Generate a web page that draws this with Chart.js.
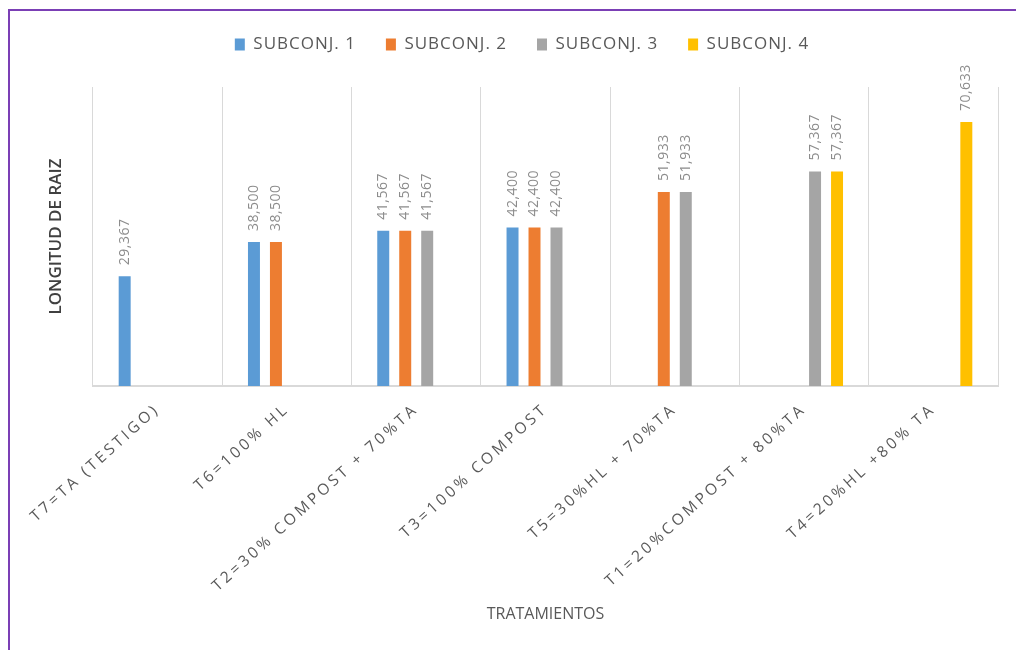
<!DOCTYPE html>
<html>
<head>
<meta charset="utf-8">
<script src="https://cdn.jsdelivr.net/npm/chart.js@4.4.1/dist/chart.umd.min.js"></script>
<style>
  html, body { margin: 0; padding: 0; background: #fff; }
  #wrap { position: relative; width: 1016px; height: 650px; overflow: hidden; }
  #marco { position: absolute; left: 8px; top: 9px; width: 1100px; height: 700px; border: 2px solid #7b3fb5; pointer-events: none; }
</style>
</head>
<body>
<div id="wrap">
  <canvas id="grafico" width="1016" height="650"></canvas>
  <div id="marco"></div>
</div>
<script>
const tratamientos = [
  'T7=TA (TESTIGO)',
  'T6=100% HL',
  'T2=30% COMPOST + 70%TA',
  'T3=100% COMPOST',
  'T5=30%HL + 70%TA',
  'T1=20%COMPOST + 80%TA',
  'T4=20%HL +80% TA'
];
const subconj1 = [29.367, 38.5, 41.567, 42.4, null, null, null];
const subconj2 = [null, 38.5, 41.567, 42.4, 51.933, null, null];
const subconj3 = [null, null, 41.567, 42.4, 51.933, 57.367, null];
const subconj4 = [null, null, null, null, null, 57.367, 70.633];

const colores = ['#5b9bd5', '#ed7d31', '#a5a5a5', '#ffc000'];
const nombres = ['SUBCONJ. 1', 'SUBCONJ. 2', 'SUBCONJ. 3', 'SUBCONJ. 4'];
const series = [subconj1, subconj2, subconj3, subconj4];

const PAD_IZQ = 46;
const TOP_AREA = 87;   // borde superior del area de barras
const PAD_SUP = 6;

// leyenda con letras algo espaciadas y mas aire por debajo
const ajusteLeyenda = {
  id: 'ajusteLeyenda',
  beforeInit(chart) {
    const leyenda = chart.legend;
    const fit = leyenda.fit;
    const draw = leyenda.draw;
    leyenda.fit = function () {
      this.ctx.letterSpacing = '1px';
      fit.apply(this, arguments);
      this.ctx.letterSpacing = '0px';
      this.height = TOP_AREA - PAD_SUP;
    };
    leyenda.draw = function () {
      this.ctx.letterSpacing = '1px';
      draw.apply(this, arguments);
      this.ctx.letterSpacing = '0px';
    };
  }
};

// valores sobre cada barra, en vertical
const etiquetasValor = {
  id: 'etiquetasValor',
  afterDatasetsDraw(chart) {
    const ctx = chart.ctx;
    ctx.save();
    ctx.font = '14px "Open Sans"';
    ctx.letterSpacing = '0.5px';
    ctx.fillStyle = '#8c8c8c';
    ctx.textAlign = 'left';
    ctx.textBaseline = 'middle';
    chart.data.datasets.forEach((ds, i) => {
      chart.getDatasetMeta(i).data.forEach((bar, j) => {
        const v = ds.data[j];
        if (v === null) return;
        ctx.save();
        ctx.translate(bar.x, bar.y - 11);
        ctx.rotate(-Math.PI / 2);
        ctx.fillText(v.toFixed(3).replace('.', ','), 0, 0);
        ctx.restore();
      });
    });
    ctx.restore();
    // las etiquetas del eje x (z = 1) se pintan despues, espaciadas
    ctx.letterSpacing = '3.2px';
  },
  afterDraw(chart) {
    chart.ctx.letterSpacing = '0px';
  }
};

const ctx = document.getElementById('grafico');
new Chart(ctx, {
  type: 'bar',
  data: {
    labels: tratamientos,
    datasets: series.map((d, i) => ({
      label: nombres[i],
      data: d,
      backgroundColor: colores[i],
      borderWidth: 0,
      categoryPercentage: 0.68,
      barPercentage: 0.545,
      skipNull: false
    }))
  },
  options: {
    responsive: false,
    animation: false,
    layout: { padding: { left: PAD_IZQ, right: 18, top: PAD_SUP, bottom: 0 } },
    plugins: {
      legend: {
        position: 'top',
        labels: {
          boxWidth: 10,
          boxHeight: 12,
          padding: 30,
          color: '#595959',
          font: { family: 'Open Sans', size: 17 }
        }
      },
      tooltip: { enabled: false }
    },
    scales: {
      x: {
        afterFit(scale) { scale.height = 650 - 386; },
        grid: { offset: true, color: '#d9d9d9', lineWidth: 1, drawTicks: false },
        border: { color: '#d9d9d9', width: 2 },
        ticks: {
          z: 1,
          autoSkip: false,
          minRotation: 42,
          maxRotation: 42,
          padding: 14,
          color: '#595959',
          font: { family: 'Open Sans', size: 15.5 }
        },
        title: {
          display: true,
          text: 'TRATAMIENTOS',
          color: '#595959',
          font: { family: 'Open Sans', size: 16 },
          padding: { top: 0, bottom: 26 }
        }
      },
      y: {
        min: 0,
        max: 80,
        afterFit(scale) { scale.width = 93 - PAD_IZQ; },
        grid: { display: false },
        border: { display: false },
        ticks: { display: false },
        title: {
          display: true,
          text: 'LONGITUD DE RAIZ',
          color: '#404040',
          font: { family: 'Open Sans', size: 17, weight: '600' },
          padding: { top: 0, bottom: 0 }
        }
      }
    }
  },
  plugins: [ajusteLeyenda, etiquetasValor]
});
</script>
</body>
</html>
